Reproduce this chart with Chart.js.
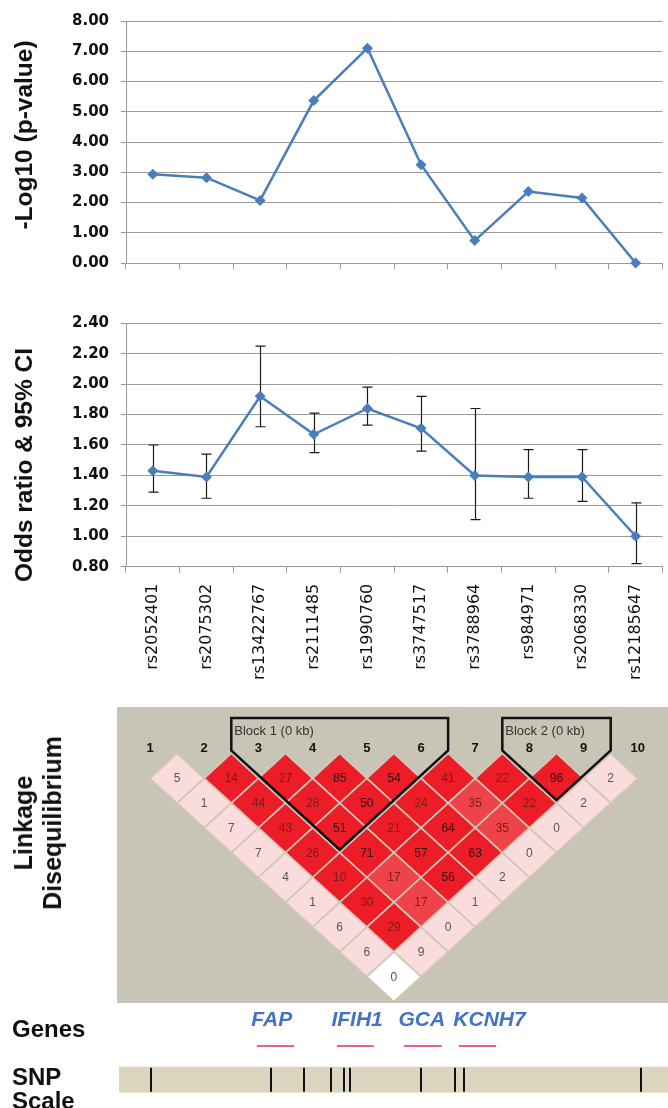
<!DOCTYPE html>
<html>
<head>
<meta charset="utf-8">
<script src="https://cdn.jsdelivr.net/npm/chart.js@4.4.1/dist/chart.umd.min.js"></script>
<style>
  html, body { margin:0; padding:0; background:#ffffff; }
  body { position:relative; width:668px; height:1108px; overflow:hidden; font-family:"Liberation Sans", Arial, sans-serif; }
  canvas { position:absolute; left:0; }
  .t { position:absolute; font-weight:bold; color:#111; white-space:nowrap; line-height:1; }
  .rot { transform:translate(-50%,-50%) rotate(-90deg); text-align:center; }
</style>
</head>
<body>
<canvas id="pChart" width="668" height="292" style="top:0px"></canvas>
<canvas id="orChart" width="668" height="400" style="top:300px"></canvas>
<canvas id="ldChart" width="668" height="303" style="top:700px"></canvas>
<canvas id="geneChart" width="668" height="105" style="top:1003px"></canvas>

<div class="t rot" style="left:24px;top:135px;font-size:24.5px">-Log10 (p-value)</div>
<div class="t rot" style="left:24px;top:465px;font-size:24.5px">Odds ratio &amp; 95% CI</div>
<div class="t rot" style="left:38px;top:823px;font-size:25px;line-height:29px">Linkage<br>Disequilibrium</div>
<div class="t" style="left:12px;top:1017px;font-size:24px">Genes</div>
<div class="t" style="left:12px;top:1065px;font-size:24px;line-height:24px">SNP<br>Scale</div>

<script>
// ---------------- DATA ----------------
const snpIds = ['rs2052401','rs2075302','rs13422767','rs2111485','rs1990760',
                'rs3747517','rs3788964','rs984971','rs2068330','rs12185647'];
const negLog10P = [2.93, 2.82, 2.07, 5.37, 7.10, 3.25, 0.74, 2.36, 2.15, 0.00];
const oddsRatio = [1.43, 1.39, 1.92, 1.67, 1.84, 1.71, 1.40, 1.39, 1.39, 1.00];
const ciLower   = [1.29, 1.25, 1.72, 1.55, 1.73, 1.56, 1.11, 1.25, 1.23, 0.82];
const ciUpper   = [1.60, 1.54, 2.25, 1.81, 1.98, 1.92, 1.84, 1.57, 1.57, 1.22];
const pValueTicks = [0, 1, 2, 3, 4, 5, 6, 7, 8];
const orTicks = [0.8, 1.0, 1.2, 1.4, 1.6, 1.8, 2.0, 2.2, 2.4];

// LD matrix: row k holds marker pairs (i, i+k), i = 1..10-k
const ldMarkers = ['1','2','3','4','5','6','7','8','9','10'];
const ldRow1 = [5, 14, 27, 85, 54, 41, 22, 96, 2];
const ldRow2 = [1, 44, 28, 50, 24, 35, 22, 2];
const ldRow3 = [7, 43, 51, 21, 64, 35, 0];
const ldRow4 = [7, 26, 71, 57, 63, 0];
const ldRow5 = [4, 10, 17, 56, 2];
const ldRow6 = [1, 30, 17, 1];
const ldRow7 = [6, 29, 0];
const ldRow8 = [6, 9];
const ldRow9 = [0];
// colour class of each cell: R strong, r moderate, p weak, w none
const ldClass1 = 'pRRRRRRRp';
const ldClass2 = 'pRRRRrRp';
const ldClass3 = 'pRRRRrp';
const ldClass4 = 'pRRRRp';
const ldClass5 = 'pRrRp';
const ldClass6 = 'pRrp';
const ldClass7 = 'pRp';
const ldClass8 = 'pp';
const ldClass9 = 'w';
const ldBlockStart = [3, 8];
const ldBlockEnd   = [6, 9];
const ldBlockNames = ['Block 1 (0 kb)', 'Block 2 (0 kb)'];

// genes and SNP physical scale (relative units along the region)
const geneNames = ['FAP', 'IFIH1', 'GCA', 'KCNH7'];
const geneStart = [251, 397, 519, 619];
const geneEnd   = [319, 464, 588, 687];
const snpScalePos = [58, 276, 337, 387, 409, 421, 550, 612, 628, 951];

const ldRows = [ldRow1, ldRow2, ldRow3, ldRow4, ldRow5, ldRow6, ldRow7, ldRow8, ldRow9];
const ldClasses = [ldClass1, ldClass2, ldClass3, ldClass4, ldClass5, ldClass6, ldClass7, ldClass8, ldClass9];

// ---------------- STYLE ----------------
const BLUE = '#4A7EBB';
const GRID = '#9a9a9a';
const TICKFONT = { family: 'DejaVu Sans', weight: 'bold', size: 15 };

function categoryAxis(showLabels, height) {
  return {
    type: 'category',
    offset: true,
    grid: { offset: true, drawOnChartArea: false, drawTicks: true, tickLength: 6, color: GRID, lineWidth: 1 },
    border: { display: true, color: GRID, width: 1 },
    ticks: { display: showLabels, autoSkip: false, maxRotation: 90, minRotation: 90, padding: 11,
             color: '#111', font: { family: 'DejaVu Sans', size: 16 } },
    afterFit(s) { s.height = height; }
  };
}
function valueAxis(min, max, tickList) {
  return {
    type: 'linear', min, max,
    afterBuildTicks(s) { s.ticks = tickList.map(v => ({ value: v })); },
    ticks: { callback: v => Number(v).toFixed(2), color: '#111', font: TICKFONT, padding: 12 },
    grid: { color: GRID, lineWidth: 1, tickLength: 5 },
    border: { display: true, color: GRID, width: 1 },
    afterFit(s) { s.width = 126; }
  };
}
const lineDataset = (data) => ({
  data, borderColor: BLUE, backgroundColor: BLUE, borderWidth: 2.5,
  pointStyle: 'rectRot', pointRadius: 5.5, pointBorderWidth: 0, tension: 0, clip: false
});
const common = {
  responsive: false, animation: false, devicePixelRatio: 1,
  plugins: { legend: { display: false }, tooltip: { enabled: false } }
};

// ---------------- CHART 1: -log10 p ----------------
new Chart(document.getElementById('pChart'), {
  type: 'line',
  data: { labels: snpIds, datasets: [lineDataset(negLog10P)] },
  options: Object.assign({}, common, {
    layout: { padding: { top: 15, right: 0, left: 0, bottom: 0 } },
    scales: { x: categoryAxis(false, 29), y: valueAxis(0, 8, pValueTicks) }
  })
});

// ---------------- CHART 2: odds ratio ----------------
const errorBarPlugin = {
  id: 'errorBars',
  beforeDatasetsDraw(chart) {
    const { ctx, scales: { x, y } } = chart;
    ctx.save();
    ctx.strokeStyle = '#1a1a1a';
    ctx.lineWidth = 1.2;
    snpIds.forEach((id, i) => {
      const px = Math.round(x.getPixelForValue(i)) + 0.5;
      const yl = y.getPixelForValue(ciLower[i]);
      const yh = y.getPixelForValue(ciUpper[i]);
      ctx.beginPath();
      ctx.moveTo(px, yl); ctx.lineTo(px, yh);
      ctx.moveTo(px - 5, yh); ctx.lineTo(px + 5, yh);
      ctx.moveTo(px - 5, yl); ctx.lineTo(px + 5, yl);
      ctx.stroke();
    });
    ctx.restore();
  }
};
new Chart(document.getElementById('orChart'), {
  type: 'line',
  data: { labels: snpIds, datasets: [lineDataset(oddsRatio)] },
  options: Object.assign({}, common, {
    layout: { padding: { top: 23.3, right: 0, left: 0, bottom: 0 } },
    scales: { x: categoryAxis(true, 133.3), y: valueAxis(0.8, 2.4, orTicks) }
  }),
  plugins: [errorBarPlugin]
});

// ---------------- CHART 3: LD plot ----------------
const LD_COLORS = { R: '#EC1D26', r: '#EE4349', p: '#FADCDC', w: '#FFFFFF' };
const ldPlugin = {
  id: 'ldPlot',
  beforeDatasetsDraw(chart) {
    const { ctx, chartArea: a, scales: { x, y } } = chart;
    const P = (u, v) => [x.getPixelForValue(u), y.getPixelForValue(v)];
    ctx.save();
    ctx.fillStyle = '#C8C4B6';
    ctx.fillRect(a.left, a.top, a.right - a.left, a.bottom - a.top);
    // cells
    ldRows.forEach((row, k0) => {
      const k = k0 + 1;
      row.forEach((val, i0) => {
        const i = i0 + 1, j = i + k;
        const cx = (i + j) / 2, cy = k;
        const pts = [P(cx, cy - 1), P(cx + 0.5, cy), P(cx, cy + 1), P(cx - 0.5, cy)];
        const cls = ldClasses[k0][i0];
        ctx.beginPath();
        ctx.moveTo(pts[0][0], pts[0][1]);
        for (let n = 1; n < 4; n++) ctx.lineTo(pts[n][0], pts[n][1]);
        ctx.closePath();
        ctx.fillStyle = LD_COLORS[cls];
        ctx.fill();
        ctx.strokeStyle = '#CFC7B8';
        ctx.lineWidth = 1.6;
        ctx.stroke();
        const [tx, ty] = P(cx, cy);
        ctx.font = '12px "Liberation Sans", Arial, sans-serif';
        ctx.textAlign = 'center';
        ctx.textBaseline = 'middle';
        ctx.fillStyle = (cls === 'R' || cls === 'r') ? (val >= 50 ? '#2a1212' : '#7a1c20') : '#555555';
        ctx.fillText(String(val), tx, ty + 0.5);
      });
    });
    // marker numbers
    ctx.font = 'bold 13px "Liberation Sans", Arial, sans-serif';
    ctx.fillStyle = '#111';
    ctx.textAlign = 'center';
    ctx.textBaseline = 'middle';
    ldMarkers.forEach((m, i) => {
      const [mx, my] = P(i + 1, -0.21);
      ctx.fillText(m, mx, my);
    });
    // blocks
    const off = -0.12, topRow = -1.43;
    ldBlockStart.forEach((s, b) => {
      const e = ldBlockEnd[b];
      const poly = [P(s - 0.5, topRow), P(s - 0.5, off), P((s + e) / 2, e - s + 1 + off),
                    P(e + 0.5, off), P(e + 0.5, topRow)];
      ctx.beginPath();
      ctx.moveTo(poly[0][0], poly[0][1]);
      for (let n = 1; n < poly.length; n++) ctx.lineTo(poly[n][0], poly[n][1]);
      ctx.closePath();
      ctx.strokeStyle = '#111';
      ctx.lineWidth = 2.5;
      ctx.lineJoin = 'miter';
      ctx.stroke();
      const [lx, ly] = P(s - 0.5, -0.91);
      ctx.font = '13px "Liberation Sans", Arial, sans-serif';
      ctx.fillStyle = '#333';
      ctx.textAlign = 'left';
      ctx.fillText(ldBlockNames[b], lx + 3, ly);
    });
    ctx.restore();
  }
};
new Chart(document.getElementById('ldChart'), {
  type: 'scatter',
  data: { datasets: [{ data: [] }] },
  options: Object.assign({}, common, {
    layout: { padding: { top: 7, right: 0, left: 117, bottom: 0 } },
    scales: {
      x: { type: 'linear', display: false, min: 0.391, max: 10.557 },
      y: { type: 'linear', display: false, reverse: true, min: -1.875, max: 10.06 }
    }
  }),
  plugins: [ldPlugin]
});

// ---------------- CHART 4: genes + SNP scale ----------------
const genePlugin = {
  id: 'genes',
  afterDatasetsDraw(chart) {
    const { ctx, chartArea: a, scales: { x, y } } = chart;
    ctx.save();
    geneNames.forEach((g, i) => {
      const x0 = x.getPixelForValue(geneStart[i]);
      const x1 = x.getPixelForValue(geneEnd[i]);
      const ly = Math.round(y.getPixelForValue(43));
      ctx.strokeStyle = '#E7609A';
      ctx.lineWidth = 2;
      ctx.beginPath(); ctx.moveTo(x0, ly); ctx.lineTo(x1, ly); ctx.stroke();
      ctx.fillStyle = '#4472C4';
      ctx.font = 'italic bold 21px "Liberation Sans", Arial, sans-serif';
      ctx.textAlign = 'left';
      ctx.textBaseline = 'middle';
      ctx.fillText(g, x0 - 5.5, y.getPixelForValue(17));
    });
    const b0 = y.getPixelForValue(63.7), b1 = y.getPixelForValue(89.7);
    ctx.fillStyle = '#DCD6C0';
    ctx.fillRect(a.left, b0, a.right - a.left, b1 - b0);
    ctx.strokeStyle = '#111';
    ctx.lineWidth = 2;
    snpScalePos.forEach(p => {
      const px = Math.round(x.getPixelForValue(p));
      ctx.beginPath(); ctx.moveTo(px, b0 + 1); ctx.lineTo(px, b1 - 1); ctx.stroke();
    });
    ctx.restore();
  }
};
new Chart(document.getElementById('geneChart'), {
  type: 'scatter',
  data: { datasets: [{ data: [] }] },
  options: Object.assign({}, common, {
    layout: { padding: { top: 0, right: 0, left: 119, bottom: 0 } },
    scales: {
      x: { type: 'linear', display: false, min: 0, max: 1000 },
      y: { type: 'linear', display: false, reverse: true, min: 0, max: 105 }
    }
  }),
  plugins: [genePlugin]
});
</script>
</body>
</html>
